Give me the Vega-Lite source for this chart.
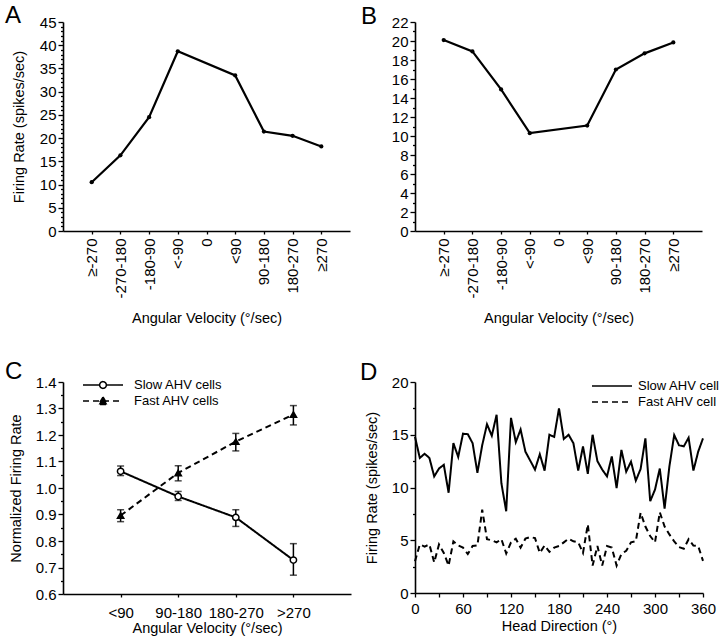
{
  "$schema": "https://vega.github.io/schema/vega-lite/v6.json",
  "background": "white",
  "padding": {"left": 5, "top": 3, "right": 5, "bottom": 5},
  "columns": 2,
  "spacing": {"row": 151, "column": 64},
  "bounds": "flush",
  "config": {
    "view": {"stroke": null},
    "font": "Liberation Sans",
    "axis": {"domainColor": "black", "domainWidth": 1.6, "tickColor": "black", "tickWidth": 1.3, "labelColor": "black", "titleColor": "black", "labelFontSize": 15, "titleFontSize": 14.5, "titleFontWeight": "normal", "grid": false, "labelFont": "Liberation Sans", "titleFont": "Liberation Sans"},
    "legend": {"labelFont": "Liberation Sans", "labelColor": "black", "labelFontSize": 13},
    "title": {"fontSize": 24, "fontWeight": "normal", "anchor": "start", "frame": "group", "color": "black", "font": "Liberation Sans"}
  },
  "resolve": {
    "scale": {"x": "independent", "y": "independent", "strokeDash": "independent"},
    "axis": {"x": "independent", "y": "independent"},
    "legend": {"strokeDash": "independent"}
  },
  "concat": [
    {
      "width": 287, "height": 209,
      "title": {"text": "A", "dx": -58, "dy": 12.5, "offset": 0},
      "data": {"values": [
        {"vel": "≥-270", "rate": 10.5},
        {"vel": "-270-180", "rate": 16.3},
        {"vel": "-180-90", "rate": 24.5},
        {"vel": "<-90", "rate": 38.7},
        {"vel": "<90", "rate": 33.5},
        {"vel": "90-180", "rate": 21.4},
        {"vel": "180-270", "rate": 20.5},
        {"vel": "≥270", "rate": 18.2}
      ]},
      "encoding": {
        "x": {"field": "vel", "type": "ordinal", "sort": null,
          "scale": {"type": "point", "padding": 1, "domain": ["≥-270", "-270-180", "-180-90", "<-90", "0", "<90", "90-180", "180-270", "≥270"]},
          "axis": {"title": "Angular Velocity (°/sec)", "labelAngle": 270, "labelAlign": "right", "labelBaseline": "middle", "tickSize": 3, "labelPadding": 4, "titlePadding": 13}},
        "y": {"field": "rate", "type": "quantitative",
          "scale": {"domain": [0, 45], "nice": false},
          "axis": {"title": "Firing Rate (spikes/sec)", "values": [0,1,2,3,4,5,6,7,8,9,10,11,12,13,14,15,16,17,18,19,20,21,22,23,24,25,26,27,28,29,30,31,32,33,34,35,36,37,38,39,40,41,42,43,44,45],
            "labelExpr": "datum.value % 5 === 0 ? datum.label : ''", "labelOverlap": false,
            "tickSize": {"condition": {"test": "datum.value % 5 === 0", "value": 5}, "value": 2.5},
            "labelPadding": 2, "titlePadding": 13}}
      },
      "layer": [
        {"mark": {"type": "line", "color": "black", "strokeWidth": 2.2}},
        {"mark": {"type": "circle", "color": "black", "size": 18, "opacity": 1}}
      ]
    },
    {
      "width": 287, "height": 209,
      "title": {"text": "B", "dx": -54, "dy": 13.5, "offset": 0},
      "data": {"values": [
        {"vel": "≥-270", "rate": 20.1},
        {"vel": "-270-180", "rate": 18.9},
        {"vel": "-180-90", "rate": 14.9},
        {"vel": "<-90", "rate": 10.3},
        {"vel": "<90", "rate": 11.1},
        {"vel": "90-180", "rate": 17.0},
        {"vel": "180-270", "rate": 18.7},
        {"vel": "≥270", "rate": 19.85}
      ]},
      "encoding": {
        "x": {"field": "vel", "type": "ordinal", "sort": null,
          "scale": {"type": "point", "padding": 1, "domain": ["≥-270", "-270-180", "-180-90", "<-90", "0", "<90", "90-180", "180-270", "≥270"]},
          "axis": {"title": "Angular Velocity (°/sec)", "labelAngle": 270, "labelAlign": "right", "labelBaseline": "middle", "tickSize": 3, "labelPadding": 4, "titlePadding": 13}},
        "y": {"field": "rate", "type": "quantitative",
          "scale": {"domain": [0, 22], "nice": false},
          "axis": {"title": null, "values": [0,1,2,3,4,5,6,7,8,9,10,11,12,13,14,15,16,17,18,19,20,21,22],
            "labelExpr": "datum.value % 2 === 0 ? datum.label : ''", "labelOverlap": false,
            "tickSize": {"condition": {"test": "datum.value % 2 === 0", "value": 5}, "value": 2.5},
            "labelPadding": 2}}
      },
      "layer": [
        {"mark": {"type": "line", "color": "black", "strokeWidth": 2.2}},
        {"mark": {"type": "circle", "color": "black", "size": 18, "opacity": 1}}
      ]
    },
    {
      "width": 288, "height": 212,
      "title": {"text": "C", "dx": -58, "dy": 8.5, "offset": 0},
      "data": {"values": [
        {"vel": "<90", "group": "Slow AHV cells", "rate": 1.063, "lo": 1.047, "hi": 1.083},
        {"vel": "90-180", "group": "Slow AHV cells", "rate": 0.968, "lo": 0.953, "hi": 0.987},
        {"vel": "180-270", "group": "Slow AHV cells", "rate": 0.889, "lo": 0.855, "hi": 0.918},
        {"vel": ">270", "group": "Slow AHV cells", "rate": 0.728, "lo": 0.671, "hi": 0.79},
        {"vel": "<90", "group": "Fast AHV cells", "rate": 0.896, "lo": 0.873, "hi": 0.918},
        {"vel": "90-180", "group": "Fast AHV cells", "rate": 1.057, "lo": 1.027, "hi": 1.084},
        {"vel": "180-270", "group": "Fast AHV cells", "rate": 1.175, "lo": 1.14, "hi": 1.206},
        {"vel": ">270", "group": "Fast AHV cells", "rate": 1.277, "lo": 1.238, "hi": 1.311}
      ]},
      "encoding": {
        "x": {"field": "vel", "type": "ordinal", "sort": null,
          "scale": {"type": "point", "padding": 1, "domain": ["<90", "90-180", "180-270", ">270"]},
          "axis": {"title": "Angular Velocity (°/sec)", "labelAngle": 0, "tickSize": 3, "labelPadding": 8, "titlePadding": 1}}
      },
      "layer": [
        {"mark": {"type": "rule", "color": "black", "strokeWidth": 1.5},
          "encoding": {
            "y": {"field": "lo", "type": "quantitative", "scale": {"domain": [0.6, 1.4], "nice": false},
              "axis": {"title": "Normalized Firing Rate", "values": [0.6,0.65,0.7,0.75,0.8,0.85,0.9,0.95,1.0,1.05,1.1,1.15,1.2,1.25,1.3,1.35,1.4],
                "labelExpr": "abs(datum.value*10 - round(datum.value*10)) < 0.01 ? format(datum.value, '.1f') : ''", "labelOverlap": false,
                "tickSize": {"condition": {"test": "abs(datum.value*10 - round(datum.value*10)) < 0.01", "value": 5}, "value": 2.5},
                "labelPadding": 2, "titlePadding": 12}},
            "y2": {"field": "hi"}
          }},
        {"mark": {"type": "tick", "color": "black", "size": 7, "thickness": 1.5},
          "encoding": {"y": {"field": "lo", "type": "quantitative", "scale": {"domain": [0.6, 1.4], "nice": false},
              "axis": {"title": "Normalized Firing Rate", "values": [0.6,0.65,0.7,0.75,0.8,0.85,0.9,0.95,1.0,1.05,1.1,1.15,1.2,1.25,1.3,1.35,1.4],
                "labelExpr": "abs(datum.value*10 - round(datum.value*10)) < 0.01 ? format(datum.value, '.1f') : ''", "labelOverlap": false,
                "tickSize": {"condition": {"test": "abs(datum.value*10 - round(datum.value*10)) < 0.01", "value": 5}, "value": 2.5},
                "labelPadding": 2, "titlePadding": 12}}}},
        {"mark": {"type": "tick", "color": "black", "size": 7, "thickness": 1.5},
          "encoding": {"y": {"field": "hi", "type": "quantitative", "scale": {"domain": [0.6, 1.4], "nice": false},
              "axis": {"title": "Normalized Firing Rate", "values": [0.6,0.65,0.7,0.75,0.8,0.85,0.9,0.95,1.0,1.05,1.1,1.15,1.2,1.25,1.3,1.35,1.4],
                "labelExpr": "abs(datum.value*10 - round(datum.value*10)) < 0.01 ? format(datum.value, '.1f') : ''", "labelOverlap": false,
                "tickSize": {"condition": {"test": "abs(datum.value*10 - round(datum.value*10)) < 0.01", "value": 5}, "value": 2.5},
                "labelPadding": 2, "titlePadding": 12}}}},
        {"mark": {"type": "line", "color": "black", "strokeWidth": 2},
          "encoding": {
            "y": {"field": "rate", "type": "quantitative", "scale": {"domain": [0.6, 1.4], "nice": false},
              "axis": {"title": "Normalized Firing Rate", "values": [0.6,0.65,0.7,0.75,0.8,0.85,0.9,0.95,1.0,1.05,1.1,1.15,1.2,1.25,1.3,1.35,1.4],
                "labelExpr": "abs(datum.value*10 - round(datum.value*10)) < 0.01 ? format(datum.value, '.1f') : ''", "labelOverlap": false,
                "tickSize": {"condition": {"test": "abs(datum.value*10 - round(datum.value*10)) < 0.01", "value": 5}, "value": 2.5},
                "labelPadding": 2, "titlePadding": 12}},
            "strokeDash": {"field": "group", "type": "nominal",
              "scale": {"domain": ["Slow AHV cells", "Fast AHV cells"], "range": [[1, 0], [6, 4]]},
              "legend": {"orient": "none", "legendX": 19, "legendY": -5, "title": null, "symbolSize": 1600, "symbolStrokeWidth": 1.5, "symbolStrokeColor": "black", "clipHeight": 16, "rowPadding": 0, "labelOffset": 10, "labelFontSize": 13,
                "encode": {"symbols": {"update": {
                  "shape": {"signal": "datum.value === 'Slow AHV cells' ? 'M-1,0L-0.17,0M0.17,0L1,0M0.17,0L0.157,0.065L0.12,0.12L0.065,0.157L0,0.17L-0.065,0.157L-0.12,0.12L-0.157,0.065L-0.17,0L-0.157,-0.065L-0.12,-0.12L-0.065,-0.157L0,-0.17L0.065,-0.157L0.12,-0.12L0.157,-0.065Z' : 'M-1,0L1,0M0,-0.2L0.22,0.17L-0.22,0.17Z'"},
                  "fill": {"signal": "datum.value === 'Slow AHV cells' ? 'white' : 'black'"},
                  "stroke": {"value": "black"}
                }}}}
            }
          }},
        {"mark": {"type": "point", "stroke": "black", "strokeWidth": 1.5, "opacity": 1, "size": 40},
          "encoding": {
            "y": {"field": "rate", "type": "quantitative", "scale": {"domain": [0.6, 1.4], "nice": false},
              "axis": {"title": "Normalized Firing Rate", "values": [0.6,0.65,0.7,0.75,0.8,0.85,0.9,0.95,1.0,1.05,1.1,1.15,1.2,1.25,1.3,1.35,1.4],
                "labelExpr": "abs(datum.value*10 - round(datum.value*10)) < 0.01 ? format(datum.value, '.1f') : ''", "labelOverlap": false,
                "tickSize": {"condition": {"test": "abs(datum.value*10 - round(datum.value*10)) < 0.01", "value": 5}, "value": 2.5},
                "labelPadding": 2, "titlePadding": 12}},
            "shape": {"condition": {"test": "datum.group === 'Slow AHV cells'", "value": "circle"}, "value": "triangle-up"},
            "fill": {"condition": {"test": "datum.group === 'Slow AHV cells'", "value": "white"}, "value": "black"}
          }}
      ]
    },
    {
      "width": 288, "height": 211,
      "title": {"text": "D", "dx": -55, "dy": 10, "offset": 0},
      "data": {"values": [
        {"hd": 0, "cell": "Slow AHV cell", "rate": 14.8}, {"hd": 6, "cell": "Slow AHV cell", "rate": 12.8}, {"hd": 12, "cell": "Slow AHV cell", "rate": 13.2}, {"hd": 18, "cell": "Slow AHV cell", "rate": 12.8},
        {"hd": 24, "cell": "Slow AHV cell", "rate": 11.05}, {"hd": 30, "cell": "Slow AHV cell", "rate": 11.8}, {"hd": 36, "cell": "Slow AHV cell", "rate": 12.15}, {"hd": 42, "cell": "Slow AHV cell", "rate": 9.5},
        {"hd": 48, "cell": "Slow AHV cell", "rate": 14.2}, {"hd": 54, "cell": "Slow AHV cell", "rate": 12.9}, {"hd": 60, "cell": "Slow AHV cell", "rate": 15.1}, {"hd": 66, "cell": "Slow AHV cell", "rate": 15.05},
        {"hd": 72, "cell": "Slow AHV cell", "rate": 14.2}, {"hd": 78, "cell": "Slow AHV cell", "rate": 11.4}, {"hd": 84, "cell": "Slow AHV cell", "rate": 14.0}, {"hd": 90, "cell": "Slow AHV cell", "rate": 16.0},
        {"hd": 96, "cell": "Slow AHV cell", "rate": 14.9}, {"hd": 102, "cell": "Slow AHV cell", "rate": 16.9}, {"hd": 108, "cell": "Slow AHV cell", "rate": 10.4}, {"hd": 114, "cell": "Slow AHV cell", "rate": 7.75},
        {"hd": 120, "cell": "Slow AHV cell", "rate": 16.6}, {"hd": 126, "cell": "Slow AHV cell", "rate": 14.3}, {"hd": 132, "cell": "Slow AHV cell", "rate": 15.5}, {"hd": 138, "cell": "Slow AHV cell", "rate": 13.4},
        {"hd": 144, "cell": "Slow AHV cell", "rate": 12.55}, {"hd": 150, "cell": "Slow AHV cell", "rate": 11.7}, {"hd": 156, "cell": "Slow AHV cell", "rate": 13.15}, {"hd": 162, "cell": "Slow AHV cell", "rate": 11.6},
        {"hd": 168, "cell": "Slow AHV cell", "rate": 15.0}, {"hd": 174, "cell": "Slow AHV cell", "rate": 14.8}, {"hd": 180, "cell": "Slow AHV cell", "rate": 17.5}, {"hd": 186, "cell": "Slow AHV cell", "rate": 14.6},
        {"hd": 192, "cell": "Slow AHV cell", "rate": 15.0}, {"hd": 198, "cell": "Slow AHV cell", "rate": 14.2}, {"hd": 204, "cell": "Slow AHV cell", "rate": 11.6}, {"hd": 210, "cell": "Slow AHV cell", "rate": 13.9},
        {"hd": 216, "cell": "Slow AHV cell", "rate": 11.3}, {"hd": 222, "cell": "Slow AHV cell", "rate": 15.0}, {"hd": 228, "cell": "Slow AHV cell", "rate": 12.5}, {"hd": 234, "cell": "Slow AHV cell", "rate": 11.7},
        {"hd": 240, "cell": "Slow AHV cell", "rate": 11.05}, {"hd": 246, "cell": "Slow AHV cell", "rate": 12.95}, {"hd": 252, "cell": "Slow AHV cell", "rate": 9.95}, {"hd": 258, "cell": "Slow AHV cell", "rate": 13.56},
        {"hd": 264, "cell": "Slow AHV cell", "rate": 11.5}, {"hd": 270, "cell": "Slow AHV cell", "rate": 12.45}, {"hd": 276, "cell": "Slow AHV cell", "rate": 10.65}, {"hd": 282, "cell": "Slow AHV cell", "rate": 11.75},
        {"hd": 288, "cell": "Slow AHV cell", "rate": 14.66}, {"hd": 294, "cell": "Slow AHV cell", "rate": 8.7}, {"hd": 300, "cell": "Slow AHV cell", "rate": 9.8}, {"hd": 306, "cell": "Slow AHV cell", "rate": 11.8},
        {"hd": 312, "cell": "Slow AHV cell", "rate": 8.0}, {"hd": 318, "cell": "Slow AHV cell", "rate": 12.0}, {"hd": 324, "cell": "Slow AHV cell", "rate": 14.97}, {"hd": 330, "cell": "Slow AHV cell", "rate": 14.0},
        {"hd": 336, "cell": "Slow AHV cell", "rate": 13.9}, {"hd": 342, "cell": "Slow AHV cell", "rate": 14.72}, {"hd": 348, "cell": "Slow AHV cell", "rate": 11.6}, {"hd": 354, "cell": "Slow AHV cell", "rate": 13.4},
        {"hd": 360, "cell": "Slow AHV cell", "rate": 14.66},
        {"hd": 0, "cell": "Fast AHV cell", "rate": 3.0}, {"hd": 6, "cell": "Fast AHV cell", "rate": 4.6}, {"hd": 12, "cell": "Fast AHV cell", "rate": 4.4}, {"hd": 18, "cell": "Fast AHV cell", "rate": 4.6},
        {"hd": 24, "cell": "Fast AHV cell", "rate": 2.9}, {"hd": 30, "cell": "Fast AHV cell", "rate": 4.6}, {"hd": 36, "cell": "Fast AHV cell", "rate": 3.8}, {"hd": 42, "cell": "Fast AHV cell", "rate": 2.6},
        {"hd": 48, "cell": "Fast AHV cell", "rate": 4.9}, {"hd": 54, "cell": "Fast AHV cell", "rate": 4.5}, {"hd": 60, "cell": "Fast AHV cell", "rate": 4.3}, {"hd": 66, "cell": "Fast AHV cell", "rate": 3.7},
        {"hd": 72, "cell": "Fast AHV cell", "rate": 4.45}, {"hd": 78, "cell": "Fast AHV cell", "rate": 4.5}, {"hd": 84, "cell": "Fast AHV cell", "rate": 7.9}, {"hd": 90, "cell": "Fast AHV cell", "rate": 5.1},
        {"hd": 96, "cell": "Fast AHV cell", "rate": 5.0}, {"hd": 102, "cell": "Fast AHV cell", "rate": 4.8}, {"hd": 108, "cell": "Fast AHV cell", "rate": 5.1}, {"hd": 114, "cell": "Fast AHV cell", "rate": 3.75},
        {"hd": 120, "cell": "Fast AHV cell", "rate": 4.8}, {"hd": 126, "cell": "Fast AHV cell", "rate": 5.15}, {"hd": 132, "cell": "Fast AHV cell", "rate": 4.3}, {"hd": 138, "cell": "Fast AHV cell", "rate": 5.15},
        {"hd": 144, "cell": "Fast AHV cell", "rate": 5.3}, {"hd": 150, "cell": "Fast AHV cell", "rate": 5.2}, {"hd": 156, "cell": "Fast AHV cell", "rate": 3.8}, {"hd": 162, "cell": "Fast AHV cell", "rate": 4.5},
        {"hd": 168, "cell": "Fast AHV cell", "rate": 3.9}, {"hd": 174, "cell": "Fast AHV cell", "rate": 4.3}, {"hd": 180, "cell": "Fast AHV cell", "rate": 4.45}, {"hd": 186, "cell": "Fast AHV cell", "rate": 4.8},
        {"hd": 192, "cell": "Fast AHV cell", "rate": 5.15}, {"hd": 198, "cell": "Fast AHV cell", "rate": 4.9}, {"hd": 204, "cell": "Fast AHV cell", "rate": 4.8}, {"hd": 210, "cell": "Fast AHV cell", "rate": 3.8},
        {"hd": 216, "cell": "Fast AHV cell", "rate": 6.5}, {"hd": 222, "cell": "Fast AHV cell", "rate": 2.6}, {"hd": 228, "cell": "Fast AHV cell", "rate": 4.45}, {"hd": 234, "cell": "Fast AHV cell", "rate": 2.6},
        {"hd": 240, "cell": "Fast AHV cell", "rate": 4.45}, {"hd": 246, "cell": "Fast AHV cell", "rate": 4.3}, {"hd": 252, "cell": "Fast AHV cell", "rate": 2.6}, {"hd": 258, "cell": "Fast AHV cell", "rate": 3.7},
        {"hd": 264, "cell": "Fast AHV cell", "rate": 4.0}, {"hd": 270, "cell": "Fast AHV cell", "rate": 4.8}, {"hd": 276, "cell": "Fast AHV cell", "rate": 4.9}, {"hd": 282, "cell": "Fast AHV cell", "rate": 7.6},
        {"hd": 288, "cell": "Fast AHV cell", "rate": 6.3}, {"hd": 294, "cell": "Fast AHV cell", "rate": 5.4}, {"hd": 300, "cell": "Fast AHV cell", "rate": 4.8}, {"hd": 306, "cell": "Fast AHV cell", "rate": 7.65},
        {"hd": 312, "cell": "Fast AHV cell", "rate": 6.3}, {"hd": 318, "cell": "Fast AHV cell", "rate": 5.55}, {"hd": 324, "cell": "Fast AHV cell", "rate": 4.9}, {"hd": 330, "cell": "Fast AHV cell", "rate": 4.35},
        {"hd": 336, "cell": "Fast AHV cell", "rate": 4.2}, {"hd": 342, "cell": "Fast AHV cell", "rate": 5.1}, {"hd": 348, "cell": "Fast AHV cell", "rate": 4.5}, {"hd": 354, "cell": "Fast AHV cell", "rate": 4.45},
        {"hd": 360, "cell": "Fast AHV cell", "rate": 3.05}
      ]},
      "mark": {"type": "line", "color": "black", "strokeWidth": 2},
      "encoding": {
        "x": {"field": "hd", "type": "quantitative", "scale": {"domain": [0, 360], "nice": false},
          "axis": {"title": "Head Direction (°)", "values": [0,30,60,90,120,150,180,210,240,270,300,330,360],
            "labelExpr": "datum.value % 60 === 0 ? datum.label : ''", "labelOverlap": false, "labelFlush": false,
            "tickSize": 4, "labelPadding": 4, "titlePadding": 3}},
        "y": {"field": "rate", "type": "quantitative", "scale": {"domain": [0, 20], "nice": false},
          "axis": {"title": "Firing Rate (spikes/sec)", "values": [0,2.5,5,7.5,10,12.5,15,17.5,20],
            "labelExpr": "datum.value % 5 === 0 ? datum.label : ''", "labelOverlap": false,
            "tickSize": {"condition": {"test": "datum.value % 5 === 0", "value": 5}, "value": 2.5},
            "labelPadding": 2, "titlePadding": 12}},
        "strokeDash": {"field": "cell", "type": "nominal",
          "scale": {"domain": ["Slow AHV cell", "Fast AHV cell"], "range": [[1, 0], [6, 4]]},
          "legend": {"orient": "none", "legendX": 176, "legendY": -4, "title": null, "symbolType": "stroke", "symbolSize": 1600, "symbolStrokeWidth": 1.5, "symbolStrokeColor": "black", "clipHeight": 16, "rowPadding": 0, "labelOffset": 5, "labelFontSize": 13}}
      }
    }
  ]
}
